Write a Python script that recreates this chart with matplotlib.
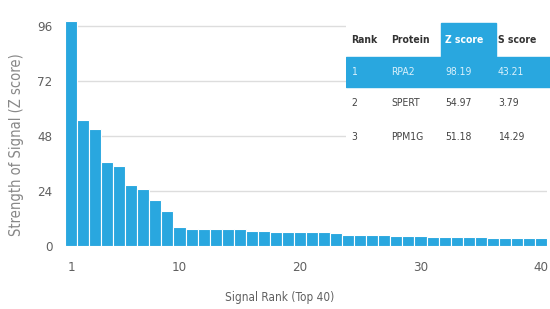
import matplotlib
matplotlib.use("Agg")
import matplotlib.pyplot as plt
from matplotlib import font_manager
from matplotlib.font_manager import FontProperties
from matplotlib.patches import Rectangle

# ---- data ----
ranks = list(range(1, 41))
z_scores = [98.19, 54.97, 51.18, 36.8, 35.0, 26.5, 24.8, 20.2, 15.3, 8.1,
            7.6, 7.5, 7.4, 7.3, 7.2, 6.6, 6.4, 6.3, 6.2, 6.1,
            6.0, 5.9, 5.8, 4.9, 4.8, 4.7, 4.6, 4.5, 4.5, 4.4,
            4.0, 3.9, 3.9, 3.8, 3.8, 3.7, 3.7, 3.6, 3.6, 3.5]
x_ticks = [1, 10, 20, 30, 40]
y_ticks = [0, 24, 48, 72, 96]

table_header = ["Rank", "Protein", "Z score", "S score"]
table_rank = ["1", "2", "3"]
table_protein = ["RPA2", "SPERT", "PPM1G"]
table_z = ["98.19", "54.97", "51.18"]
table_s = ["43.21", "3.79", "14.29"]

BLUE = "#29a7df"
GRAY = "#606060"

# look for a condensed / narrow font file
reg_file, bold_file = None, None
for f in font_manager.fontManager.ttflist:
    nm = (f.fname + " " + f.name).lower()
    if ("condensed" in nm or "narrow" in nm or str(f.stretch).lower() in ("condensed", "semi-condensed")) \
            and "mono" not in nm and "serif" not in nm.replace("sans-serif", ""):
        if "oblique" in nm or "italic" in nm:
            continue
        if f.weight in ("bold", 700) or "bold" in nm:
            bold_file = bold_file or f.fname
        else:
            reg_file = reg_file or f.fname

def fp(size, bold=False):
    if bold and bold_file:
        return FontProperties(fname=bold_file, size=size)
    if reg_file:
        p = FontProperties(fname=reg_file, size=size)
        if bold:
            p.set_weight("bold")
        return p
    return FontProperties(family="Liberation Sans", size=size,
                          weight="bold" if bold else "normal")

fig = plt.figure(figsize=(5.5, 3.09), dpi=100)
ax = fig.add_axes([65/550, 63/309, (547-65)/550, (246-19)/309])
ax.bar(ranks, z_scores, width=1.0, color=BLUE, edgecolor="white", linewidth=0.8, zorder=2)
ax.set_xlim(0.5, 40.5)
ax.set_ylim(0, 99)
ax.set_yticks(y_ticks)
ax.set_xticks(x_ticks)
ax.grid(axis="y", color="#dddddd", linewidth=1.0, zorder=0)
ax.set_axisbelow(True)
for s in ax.spines.values():
    s.set_visible(False)
ax.tick_params(length=0, labelcolor=GRAY)
ax.tick_params(axis="x", pad=11)
ax.tick_params(axis="y", pad=9)
for lab in ax.get_xticklabels() + ax.get_yticklabels():
    lab.set_fontproperties(fp(9.5))
ax.set_ylabel("Strength of Signal (Z score)", color="#888888", fontproperties=fp(10.5))
ax.yaxis.set_label_coords(-(65-17)/482, (246-145)/227)
ax.yaxis.label.set_va("center")
ax.set_xlabel("Signal Rank (Top 40)", color=GRAY, fontproperties=fp(8.5))
ax.xaxis.set_label_coords((280-65)/482, -(298-246)/227)
ax.xaxis.label.set_va("center")

# ---- table ----
tx0, tx1, ty0, ty1 = 346, 550, 22, 155
tax = fig.add_axes([tx0/550, (309-ty1)/309, (tx1-tx0)/550, (ty1-ty0)/309])
tax.set_xlim(tx0, tx1)
tax.set_ylim(ty1, ty0)
tax.axis("off")
tax.add_patch(Rectangle((tx0, ty0), tx1-tx0, ty1-ty0, color="white", zorder=0))
col_x = [351, 391, 445, 498]
row_y = [40, 72, 103, 137]
tax.add_patch(Rectangle((441, 23), 55, 34, color=BLUE, zorder=1))
tax.add_patch(Rectangle((346, 57), 204, 30, color=BLUE, zorder=1))
for j, h in enumerate(table_header):
    c = "white" if j == 2 else "#333333"
    tax.text(col_x[j], row_y[0], h, fontproperties=fp(7.5, bold=True),
             color=c, va="center", ha="left", zorder=3)
for i in range(3):
    c = "#d8f0fb" if i == 0 else "#444444"
    vals = [table_rank[i], table_protein[i], table_z[i], table_s[i]]
    for j, v in enumerate(vals):
        tax.text(col_x[j], row_y[i+1], v, fontproperties=fp(7.5),
                 color=c, va="center", ha="left", zorder=3)

fig.savefig("out.png", dpi=100)
